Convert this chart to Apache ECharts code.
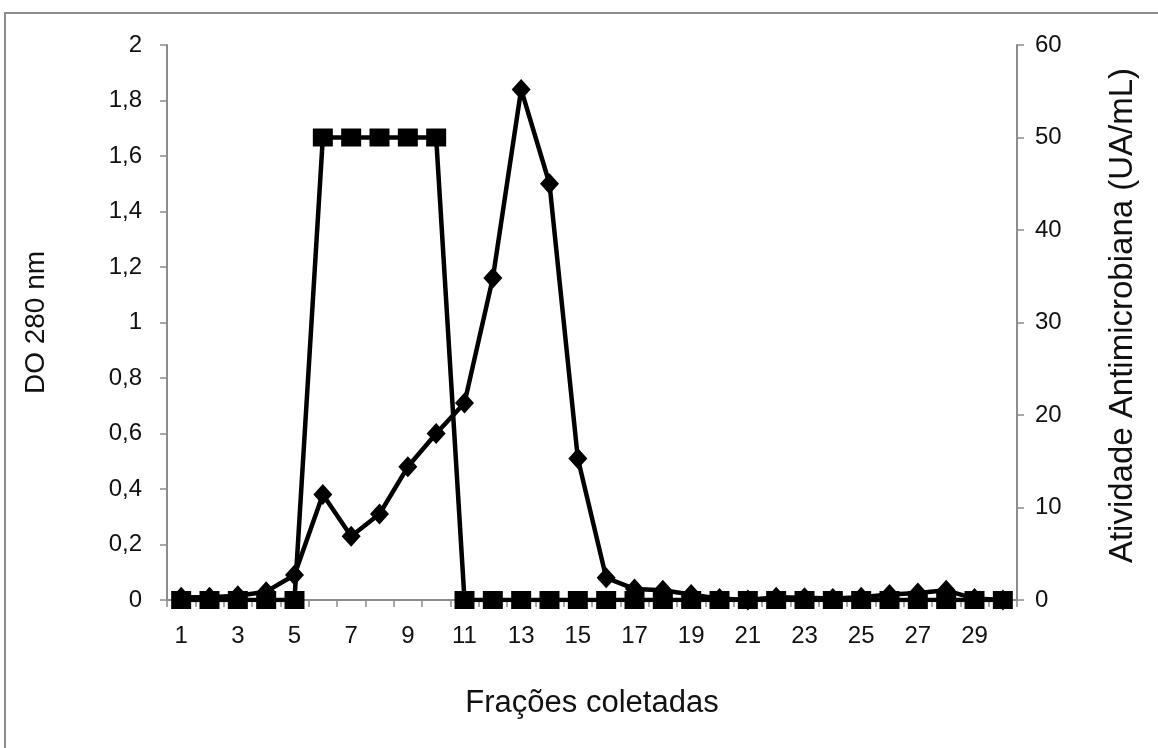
<!DOCTYPE html>
<html>
<head>
<meta charset="utf-8">
<script src="https://cdn.jsdelivr.net/npm/echarts@6/dist/echarts.min.js"></script>
<style>
  html, body { margin: 0; padding: 0; background: #fff; }
  #frame { position: absolute; left: 4px; top: 12px; width: 1154px; height: 736px;
           border-top: 2px solid #8c8c8c; border-left: 2px solid #8c8c8c; box-sizing: border-box; }
  #chart { position: absolute; left: 0; top: 0; width: 1158px; height: 748px; }
</style>
</head>
<body>
<div id="frame"></div>
<div id="chart"></div>
<script>
// fracoes coletadas 1..30
const fracoes = [];
for (let i = 1; i <= 30; i++) fracoes.push(String(i));

// DO 280 nm (eixo esquerdo)
const do280 = [
  0.01, 0.01, 0.015, 0.03, 0.09, 0.38, 0.23, 0.31, 0.48, 0.60,
  0.71, 1.16, 1.84, 1.50, 0.51, 0.08, 0.04, 0.035, 0.02, 0.005,
  0.0, 0.01, 0.008, 0.005, 0.01, 0.02, 0.025, 0.035, 0.005, 0.0
];

// Atividade antimicrobiana UA/mL (eixo direito)
const atividade = [
  0, 0, 0, 0, 0, 50, 50, 50, 50, 50,
  0, 0, 0, 0, 0, 0, 0, 0, 0, 0,
  0, 0, 0, 0, 0, 0, 0, 0, 0, 0
];

const chart = echarts.init(document.getElementById('chart'));
const font = 'Liberation Sans, Arial, sans-serif';
const axisGray = '#8c8c8c';
const txt = '#111';

chart.setOption({
  animation: false,
  textStyle: { fontFamily: font },
  grid: { left: 167, right: 141, top: 45, bottom: 148 },
  xAxis: {
    type: 'category',
    data: fracoes,
    boundaryGap: true,
    name: 'Frações coletadas',
    nameLocation: 'middle',
    nameGap: 88,
    nameTextStyle: { fontSize: 31, color: txt, fontFamily: font },
    axisLine: { lineStyle: { color: axisGray, width: 2 } },
    axisTick: { show: true, interval: 0, length: 7, lineStyle: { color: axisGray, width: 1.5 } },
    axisLabel: { interval: 1, fontSize: 24, color: txt, margin: 24, fontFamily: font },
    splitLine: { show: false }
  },
  yAxis: [
    {
      type: 'value',
      min: 0, max: 2, interval: 0.2,
      name: 'DO 280 nm',
      nameLocation: 'middle',
      nameRotate: 90,
      nameGap: 117,
      nameTextStyle: { fontSize: 28, color: txt, fontFamily: font },
      axisLine: { show: true, lineStyle: { color: axisGray, width: 2 } },
      axisTick: { show: true, length: 7, lineStyle: { color: axisGray, width: 1.5 } },
      axisLabel: {
        fontSize: 24, color: txt, margin: 25, fontFamily: font,
        formatter: v => String(Math.round(v * 10) / 10).replace('.', ',')
      },
      splitLine: { show: false }
    },
    {
      type: 'value',
      min: 0, max: 60, interval: 10,
      position: 'right',
      name: 'Atividade Antimicrobiana (UA/mL)',
      nameLocation: 'middle',
      nameRotate: 90,
      nameGap: 89,
      nameTextStyle: { fontSize: 33, color: txt, fontFamily: font, padding: [0, 0, 0, 14] },
      axisLine: { show: true, lineStyle: { color: axisGray, width: 2 } },
      axisTick: { show: true, length: 7, lineStyle: { color: axisGray, width: 1.5 } },
      axisLabel: { fontSize: 24, color: txt, margin: 18, fontFamily: font },
      splitLine: { show: false }
    }
  ],
  series: [
    {
      name: 'DO 280 nm',
      type: 'line',
      yAxisIndex: 0,
      data: do280,
      symbol: 'diamond',
      symbolSize: [19, 21],
      showAllSymbol: true,
      lineStyle: { color: '#000', width: 4.5 },
      itemStyle: { color: '#000' }
    },
    {
      name: 'Atividade Antimicrobiana',
      type: 'line',
      yAxisIndex: 1,
      data: atividade,
      symbol: 'rect',
      symbolSize: [20, 18],
      showAllSymbol: true,
      lineStyle: { color: '#000', width: 4.5 },
      itemStyle: { color: '#000' }
    }
  ]
});
</script>
</body>
</html>
